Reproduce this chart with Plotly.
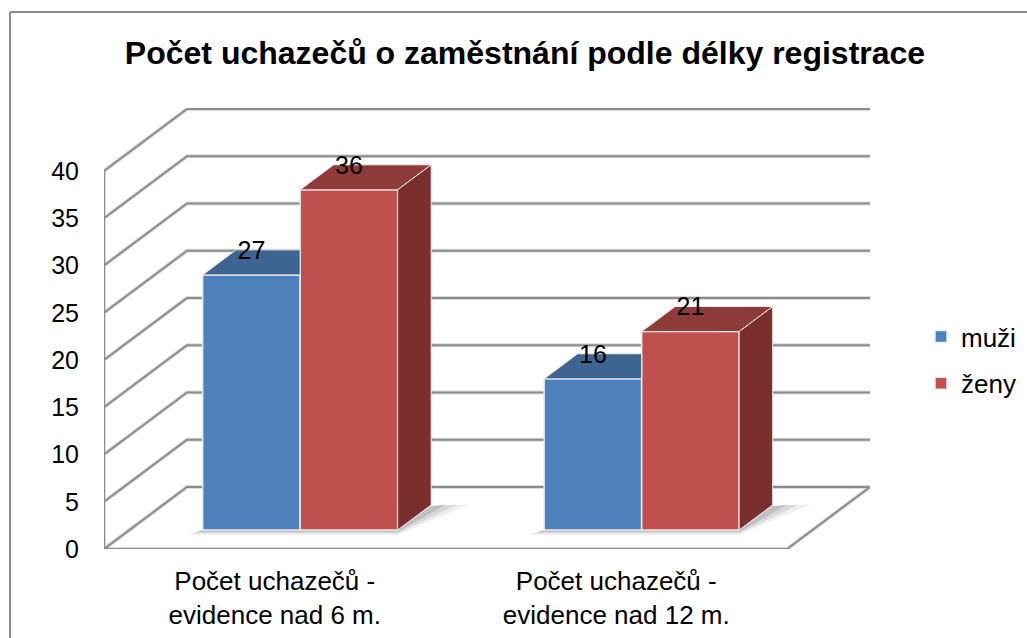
import plotly.graph_objects as go

title = "Počet uchazečů o zaměstnání podle délky registrace"
categories = ["Počet uchazečů -<br>evidence nad 6 m.", "Počet uchazečů -<br>evidence nad 12 m."]
muzi = [27, 16]
zeny = [36, 21]
y_ticks = [0, 5, 10, 15, 20, 25, 30, 35, 40]

FONT = "Liberation Sans"
GRID = "#8c8c8c"
HALO = "#dcdcdc"
EDGE = "#ececec"
W, H = 1027, 638
L, R, T, B = 104, 870, 108, 549
PX_CAT = 341.5
PX_VAL = 9.45
DX = 83 / PX_CAT      # oblique projection: full depth shift along x, in category units
DY = 62 / PX_VAL      # ... and along y, in value units
D0, D1 = 0.306, 0.71  # bar front and back, as a share of floor depth
BW = 0.2855           # bar width, category units


def X(c, d=0.0):
    return c + d * DX


def Y(v, d=0.0):
    return v + d * DY


x_min = -0.5
x_max = x_min + (R - L) / PX_CAT
x_front_end = x_min + len(categories)
y_max = (B - T) / PX_VAL
top_val = y_ticks[-1]

fig = go.Figure()
shapes = []


def poly_path(points):
    return "M " + " L ".join(f"{a},{b}" for a, b in points) + " Z"


def add_line(points, color, width):
    path = "M " + " L ".join(f"{a},{b}" for a, b in points)
    shapes.append(dict(type="path", path=path, xref="x", yref="y", layer="below",
                       line=dict(color=color, width=width), fillcolor="rgba(0,0,0,0)"))


# wall and floor lines, built from the axis ticks
for color, width in [(HALO, 4), (GRID, 2)]:
    for v in y_ticks[1:]:
        add_line([(X(x_min), Y(v)), (X(x_min, 1), Y(v, 1)), (x_max, Y(v, 1))], color, width)
    add_line([(x_min, 0), (x_front_end, 0), (x_max, Y(0, 1)), (X(x_min, 1), Y(0, 1)), (x_min, 0)], color, width)
    add_line([(x_min, 0), (x_min, top_val)], color, width)

# soft shadows on the floor
for i in range(len(categories)):
    left, right = i - BW, i + BW
    for grow, alpha in [(1.0, 0.10), (0.7, 0.14), (0.4, 0.2)]:
        shapes.append(dict(
            type="path", xref="x", yref="y", layer="below", line=dict(width=0),
            fillcolor=f"rgba(90,90,90,{alpha})",
            path=poly_path([
                (X(left, D0) - 0.045 * grow, Y(0, D0) - 0.5 * grow),
                (X(right, D0), Y(0, D0) - 0.5 * grow),
                (X(right, D1) + 0.11 * grow, Y(0, D1) + 0.05),
                (X(right, D1), Y(0, D1) - 0.1),
                (X(right, D0), Y(0, D0)),
                (X(left, D0), Y(0, D0)),
            ])))

# front faces: real bars through the axes
series = [("muži", muzi, -BW / 2, "#4f81bd"), ("ženy", zeny, BW / 2, "#c0504d")]
for name, vals, off, color in series:
    fig.add_trace(go.Bar(
        name=name, legendgroup=name,
        x=[X(i + off, D0) for i in range(len(vals))],
        y=vals, base=[Y(0, D0)] * len(vals), width=BW,
        marker=dict(color=color, line=dict(color=EDGE, width=1.5)),
        hoverinfo="skip",
    ))


def face(points, color):
    fig.add_trace(go.Scatter(
        x=[p[0] for p in points] + [points[0][0]],
        y=[p[1] for p in points] + [points[0][1]],
        mode="lines", fill="toself", fillcolor=color,
        line=dict(color=EDGE, width=1), showlegend=False, hoverinfo="skip"))


# top and side faces; the taller red bar hides the back of the blue top
top_colors = {"muži": "#3e6591", "ženy": "#8e3b39"}
for i in range(len(categories)):
    for name, vals, off, color in series:
        a, b = i + off - BW / 2, i + off + BW / 2
        v = vals[i]
        if name == "muži":
            back_right = (X(b, D0), Y(v, D1))
        else:
            back_right = (X(b, D1), Y(v, D1))
        face([(X(a, D0), Y(v, D0)), (X(b, D0), Y(v, D0)), back_right, (X(a, D1), Y(v, D1))],
             top_colors[name])
    b = i + BW
    v = zeny[i]
    face([(X(b, D0), Y(0, D0)), (X(b, D1), Y(0, D1)), (X(b, D1), Y(v, D1)), (X(b, D0), Y(v, D0))], "#7a2f2e")

# value labels
for name, vals, off, color in series:
    fig.add_trace(go.Scatter(
        x=[X(i + off, D0) for i in range(len(vals))],
        y=[Y(v, D1 - 0.04) for v in vals],
        mode="text", text=[str(v) for v in vals], textposition="middle center",
        textfont=dict(family=FONT, size=25, color="#000000"),
        showlegend=False, hoverinfo="skip", cliponaxis=False))

# chart frame (top and left edges only)
shapes.append(dict(type="line", xref="paper", yref="paper",
                   x0=(10 - L) / (R - L), x1=(10 - L) / (R - L),
                   y0=(B - H) / (B - T), y1=(B - 12) / (B - T),
                   line=dict(color=GRID, width=2)))
shapes.append(dict(type="line", xref="paper", yref="paper",
                   x0=(10 - L) / (R - L), x1=(W - L) / (R - L),
                   y0=(B - 12) / (B - T), y1=(B - 12) / (B - T),
                   line=dict(color=GRID, width=2)))

fig.update_layout(
    width=W, height=H, autosize=False,
    margin=dict(l=L, r=W - R, t=T, b=H - B, pad=0, autoexpand=False),
    paper_bgcolor="white", plot_bgcolor="white",
    barmode="overlay",
    shapes=shapes,
    font=dict(family=FONT, size=25, color="#000000"),
    title=dict(text=f"<b>{title}</b>", x=525 / W, xanchor="center", xref="container",
               y=1 - 53 / H, yanchor="middle", yref="container",
               font=dict(family=FONT, size=32, color="#000000")),
    legend=dict(x=921 / W, y=1 - 313 / H, xanchor="left", yanchor="top", xref="container", yref="container",
                tracegroupgap=10, itemwidth=30, bgcolor="rgba(0,0,0,0)",
                font=dict(family=FONT, size=26, color="#000000"), traceorder="grouped"),
    xaxis=dict(range=[x_min, x_max], tickmode="array", tickvals=list(range(len(categories))),
               ticktext=categories, showgrid=False, zeroline=False, showline=False, ticks="",
               ticklabelstandoff=14, automargin=False,
               tickfont=dict(family=FONT, size=26, color="#000000"), fixedrange=True),
    yaxis=dict(range=[0, y_max], tickmode="array", tickvals=y_ticks, showgrid=False,
               zeroline=False, showline=False, ticks="", ticklabelstandoff=24, automargin=False,
               tickfont=dict(family=FONT, size=25, color="#000000"), fixedrange=True),
)

fig.write_html("out.html", config=dict(displayModeBar=False),
               post_script="document.body.style.margin='0';")
